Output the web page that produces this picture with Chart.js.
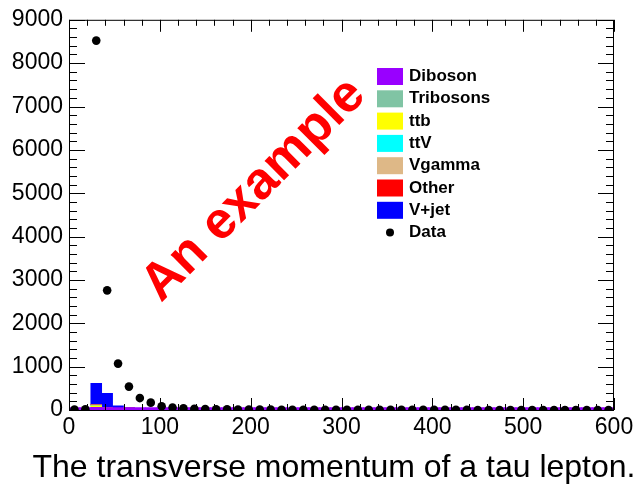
<!DOCTYPE html>
<html>
<head>
<meta charset="utf-8">
<script src="https://cdn.jsdelivr.net/npm/chart.js@4.4.1/dist/chart.umd.min.js"></script>
<style>
  html, body { margin: 0; padding: 0; background: #fff; }
</style>
</head>
<body>
<canvas id="tauPt" width="639" height="485"></canvas>
<script>
// bin centres of the tau pT histogram (12 GeV bins, 0-600)
const binCenters = [6, 18, 30, 42, 54, 66, 78, 90, 102, 114, 126, 138, 150, 162, 174, 186, 198, 210, 222, 234,
  246, 258, 270, 282, 294, 306, 318, 330, 342, 354, 366, 378, 390, 402, 414, 426, 438, 450, 462, 474,
  486, 498, 510, 522, 534, 546, 558, 570, 582, 594];

const dataCounts = [12, 18, 8520, 2760, 1070, 540, 275, 170, 85, 55, 38, 28, 22, 18, 15, 12, 10, 9, 8, 7,
  6, 6, 5, 5, 4, 4, 4, 3, 3, 3, 3, 2, 2, 2, 2, 2, 2, 1, 1, 1, 1, 1, 1, 1, 1, 1, 1, 1, 1, 1];

const vjet = [0, 0, 490, 330, 75, 0, 15, 10, 6, 4, 2, 1, 0, 0, 0, 0, 0, 0, 0, 0,
  0, 0, 0, 0, 0, 0, 0, 0, 0, 0, 0, 0, 0, 0, 0, 0, 0, 0, 0, 0, 0, 0, 0, 0, 0, 0, 0, 0, 0, 0];
const other = [0, 0, 5, 4, 4, 45, 4, 2, 1, 0, 0, 0, 0, 0, 0, 0, 0, 0, 0, 0,
  0, 0, 0, 0, 0, 0, 0, 0, 0, 0, 0, 0, 0, 0, 0, 0, 0, 0, 0, 0, 0, 0, 0, 0, 0, 0, 0, 0, 0, 0];
const vgamma = [0, 0, 20, 12, 4, 2, 1, 0, 0, 0, 0, 0, 0, 0, 0, 0, 0, 0, 0, 0,
  0, 0, 0, 0, 0, 0, 0, 0, 0, 0, 0, 0, 0, 0, 0, 0, 0, 0, 0, 0, 0, 0, 0, 0, 0, 0, 0, 0, 0, 0];
const ttv = [0, 0, 4, 2, 1, 0, 0, 0, 0, 0, 0, 0, 0, 0, 0, 0, 0, 0, 0, 0,
  0, 0, 0, 0, 0, 0, 0, 0, 0, 0, 0, 0, 0, 0, 0, 0, 0, 0, 0, 0, 0, 0, 0, 0, 0, 0, 0, 0, 0, 0];
const ttb = [0, 0, 95, 35, 10, 4, 2, 1, 0, 0, 0, 0, 0, 0, 0, 0, 0, 0, 0, 0,
  0, 0, 0, 0, 0, 0, 0, 0, 0, 0, 0, 0, 0, 0, 0, 0, 0, 0, 0, 0, 0, 0, 0, 0, 0, 0, 0, 0, 0, 0];
const tribosons = [0, 0, 1, 0, 0, 0, 0, 0, 0, 0, 0, 0, 0, 0, 0, 0, 0, 0, 0, 0,
  0, 0, 0, 0, 0, 0, 0, 0, 0, 0, 0, 0, 0, 0, 0, 0, 0, 0, 0, 0, 0, 0, 0, 0, 0, 0, 0, 0, 0, 0];
const diboson = [55, 55, 60, 58, 56, 55, 55, 55, 55, 55, 55, 55, 55, 55, 55, 55, 55, 55, 55, 55,
  55, 55, 55, 55, 55, 55, 55, 55, 55, 55, 55, 55, 55, 55, 55, 55, 55, 55, 55, 55, 55, 55, 55, 55, 55, 55, 55, 55, 55, 55];

const xTicks = [0, 100, 200, 300, 400, 500, 600];
const yTicks = [0, 1000, 2000, 3000, 4000, 5000, 6000, 7000, 8000, 9000];

const legendOrder = ['Diboson', 'Tribosons', 'ttb', 'ttV', 'Vgamma', 'Other', 'V+jet', 'Data'];
const xTitle = 'The transverse momentum of a tau lepton.';
const watermark = 'An example';

const FONT = "'Liberation Sans', Arial, Helvetica, sans-serif";

const pts = arr => arr.map((v, i) => ({ x: binCenters[i], y: v }));

function stackBar(label, values, color) {
    return {
        type: 'bar',
        label,
        data: pts(values),
        backgroundColor: color,
        borderWidth: 0,
        stack: 'bkg',
        order: 2,
        barPercentage: 1,
        categoryPercentage: 1
    };
}

// ROOT-like frame with inward ticks on all four sides
const rootFrame = {
    id: 'rootFrame',
    afterDatasetsDraw(chart) {
        const { ctx, chartArea: a, scales: { x, y } } = chart;
        ctx.save();
        ctx.strokeStyle = '#000';
        ctx.lineWidth = 1;
        ctx.strokeRect(a.left + 0.5, a.top + 0.5, a.right - a.left - 1, a.bottom - a.top);
        ctx.beginPath();
        for (let v = 0; v <= 600; v += 20) {
            const px = Math.round(x.getPixelForValue(v)) + 0.5;
            const len = v % 100 === 0 ? 12 : 6;
            ctx.moveTo(px, a.bottom); ctx.lineTo(px, a.bottom - len);
            ctx.moveTo(px, a.top); ctx.lineTo(px, a.top + len);
        }
        for (let v = 0; v <= 9000; v += 200) {
            const py = Math.round(y.getPixelForValue(v)) + 0.5;
            const len = v % 1000 === 0 ? 16 : 8;
            ctx.moveTo(a.left, py); ctx.lineTo(a.left + len, py);
            ctx.moveTo(a.right, py); ctx.lineTo(a.right - len, py);
        }
        ctx.stroke();
        ctx.restore();
    },
    afterDraw(chart) {
        const { ctx } = chart;
        ctx.save();

        // legend
        const byLabel = {};
        chart.data.datasets.forEach(ds => { byLabel[ds.label] = ds; });
        ctx.font = 'bold 17px ' + FONT;
        ctx.textBaseline = 'middle';
        ctx.textAlign = 'left';
        legendOrder.forEach((name, i) => {
            const ds = byLabel[name];
            const top = 68 + i * 22.3;
            const cy = top + 8.5;
            if (name === 'Data') {
                ctx.fillStyle = '#000';
                ctx.beginPath();
                ctx.arc(390, cy, 4, 0, Math.PI * 2);
                ctx.fill();
            } else {
                ctx.fillStyle = ds.backgroundColor;
                ctx.fillRect(377, top, 26, 17);
            }
            ctx.fillStyle = '#000';
            ctx.fillText(name, 409, cy);
        });

        // axis title
        ctx.font = '32px ' + FONT;
        ctx.textAlign = 'center';
        ctx.textBaseline = 'alphabetic';
        ctx.fillText(xTitle, 334, 477);

        // rotated watermark
        ctx.translate(254, 190);
        ctx.rotate(-Math.PI / 4);
        ctx.font = 'bold 52px ' + FONT;
        ctx.fillStyle = '#ff0000';
        ctx.textAlign = 'center';
        ctx.textBaseline = 'middle';
        ctx.fillText(watermark, 0, 0);
        ctx.restore();
    }
};

const ctx = document.getElementById('tauPt').getContext('2d');
new Chart(ctx, {
    type: 'bar',
    data: {
        datasets: [
            {
                type: 'scatter',
                label: 'Data',
                data: pts(dataCounts),
                stack: 'data',
                order: 0,
                pointRadius: 4.3,
                pointBackgroundColor: '#000',
                pointBorderWidth: 0,
                showLine: false
            },
            {
                type: 'bar',
                label: 'Diboson',
                data: pts(diboson),
                backgroundColor: '#9900ff',
                borderWidth: 0,
                stack: 'dib',
                grouped: false,
                order: 1,
                barPercentage: 1,
                categoryPercentage: 1
            },
            stackBar('ttb', ttb, '#ffff00'),
            stackBar('Tribosons', tribosons, '#80c4a4'),
            stackBar('ttV', ttv, '#00ffff'),
            stackBar('Vgamma', vgamma, '#deb887'),
            stackBar('Other', other, '#ff0000'),
            stackBar('V+jet', vjet, '#0000ff')
        ]
    },
    options: {
        responsive: false,
        animation: false,
        events: [],
        layout: { padding: { top: 18, right: 25, left: 0, bottom: 0 } },
        plugins: {
            legend: { display: false },
            tooltip: { enabled: false }
        },
        scales: {
            x: {
                type: 'linear',
                min: 0,
                max: 600,
                offset: false,
                grid: { display: false, drawTicks: false },
                border: { display: false },
                afterBuildTicks: s => { s.ticks = xTicks.map(v => ({ value: v })); },
                afterFit: s => { s.height = 75; },
                ticks: {
                    padding: 4,
                    color: '#000',
                    maxRotation: 0,
                    font: { family: FONT, size: 23 },
                    callback: v => String(v)
                }
            },
            y: {
                stacked: true,
                min: 0,
                max: 9000,
                grid: { display: false, drawTicks: false },
                border: { display: false },
                afterBuildTicks: s => { s.ticks = yTicks.map(v => ({ value: v })); },
                afterFit: s => { s.width = 69; },
                ticks: {
                    padding: 6,
                    color: '#000',
                    font: { family: FONT, size: 23 },
                    callback: v => String(v)
                }
            }
        }
    },
    plugins: [rootFrame]
});
</script>
</body>
</html>
